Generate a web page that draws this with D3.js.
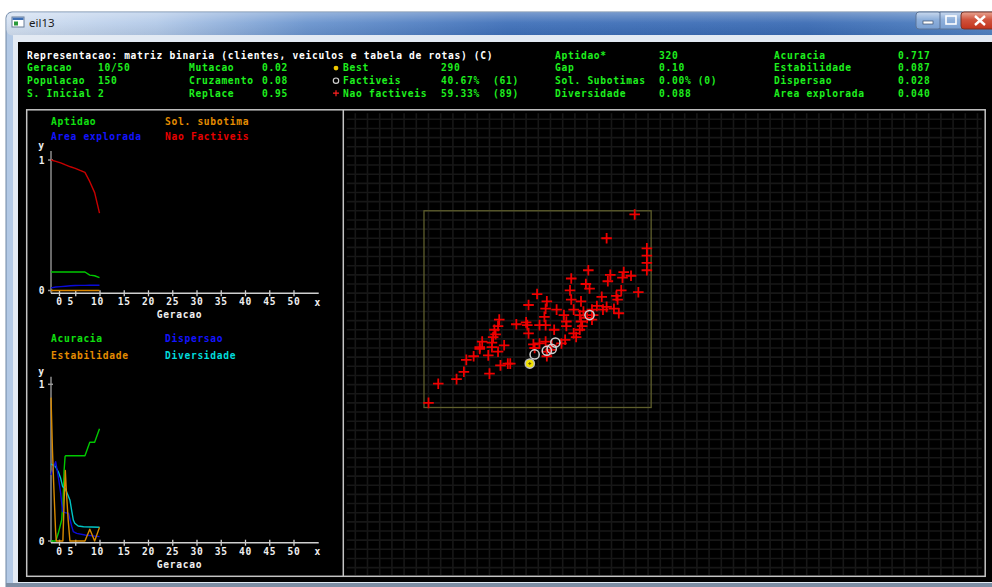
<!DOCTYPE html>
<html><head><meta charset="utf-8">
<script src="https://cdn.jsdelivr.net/npm/d3@7"></script>
<style>
html,body{margin:0;padding:0;background:#fff;overflow:hidden}
svg{display:block}
.mono{font-family:"DejaVu Sans Mono","Liberation Mono",monospace;font-weight:bold;font-size:9.6px;letter-spacing:0.7px}
</style></head><body>
<svg id="c" width="992" height="587"></svg>
<script>
// ---------- run summary ----------
const headerTitle = "Representacao: matriz binaria (clientes, veiculos e tabela de rotas) (C)";
const paramLabels = ["Geracao", "Populacao", "S. Inicial"];
const paramValues = ["10/50", "150", "2"];
const operLabels = ["Mutacao", "Cruzamento", "Replace"];
const operValues = ["0.02", "0.08", "0.95"];
const popLabels = ["Best", "Factiveis", "Nao factiveis"];
const popValues = ["290", "40.67%", "59.33%"];
const popCounts = ["", "(61)", "(89)"];
const qualLabels = ["Aptidao*", "Gap", "Sol. Subotimas", "Diversidade"];
const qualValues = ["320", "0.10", "0.00% (0)", "0.088"];
const metricLabels = ["Acuracia", "Estabilidade", "Dispersao", "Area explorada"];
const metricValues = ["0.717", "0.087", "0.028", "0.040"];

// ---------- evolution per generation (upper plot) ----------
const generations = [0, 1, 2, 3, 4, 5, 6, 7, 8, 9, 10];
const aptidaoSeries = [0.142, 0.142, 0.142, 0.142, 0.142, 0.142, 0.142, 0.142, 0.118, 0.113, 0.098];
const solSubotimaSeries = [0, 0, 0, 0, 0, 0, 0, 0, 0, 0, 0];
const areaExploradaSeries = [0.02, 0.027, 0.03, 0.033, 0.036, 0.038, 0.039, 0.039, 0.04, 0.04, 0.04];
const naoFactiveisSeries = [1.0, 0.99, 0.978, 0.962, 0.948, 0.936, 0.92, 0.905, 0.834, 0.75, 0.5933];

// ---------- population metrics (lower plot), [generation, value] ----------
const acuraciaSeries = [[0,0],[1.0,0],[1.5,0.049],[2.2,0.134],[2.5,0.262],[2.7,0.45],[2.9,0.538],[3.0,0.544],[7.0,0.544],[8.0,0.63],[9.0,0.63],[10,0.717]];
const estabilidadeSeries = [[0,0.915],[0.15,0.75],[0.3,0.58],[0.5,0.41],[0.7,0.25],[0.95,0.06],[1.1,0],[2.45,0],[2.75,0.3],[2.95,0.45],[3.2,0.3],[3.55,0.13],[3.9,0],[7.0,0],[8.0,0.075],[9.0,0],[10,0.087]];
const dispersaoSeries = [[0,0.421],[0.4,0.46],[0.96,0.506],[1.5,0.41],[2.0,0.304],[2.4,0.187],[2.9,0.181],[3.6,0.177],[4.3,0.091],[4.6,0.06],[5.3,0.049],[7.0,0.038],[10,0.028]];
const diversidadeSeries = [[0,0.49],[0.82,0.48],[1.5,0.442],[2.0,0.40],[2.4,0.347],[2.9,0.336],[3.2,0.315],[3.9,0.262],[4.3,0.187],[4.6,0.134],[4.9,0.113],[5.6,0.096],[6.7,0.091],[10,0.088]];

const xTickValues = [0, 5, 10, 15, 20, 25, 30, 35, 40, 45, 50];

// ---------- solution space (grid units) ----------
const naoFactiveis = [
 [22.9,38.6],[20.6,36.0],[23.9,34.9],[23.9,34.1],[23.9,33.3],[23.9,32.5],[19.1,32.5],[17.7,31.6],[20.9,32.0],[20.7,31.3],
 [22.0,32.3],[21.9,31.7],[22.6,31.9],[18.9,31.0],[19.2,30.5],[17.6,30.3],[14.9,29.9],[23.2,30.1],[21.8,30.3],[21.4,29.7],
 [21.5,29.3],[20.2,29.6],[17.7,29.3],[18.5,29.1],[15.7,29.1],[14.2,28.7],[15.6,28.3],[16.5,28.2],[19.8,28.6],[20.6,28.5],
 [21.2,28.3],[20.3,28.2],[21.6,27.8],[19.4,28.2],[19.5,27.6],[19.4,27.1],[17.9,28.2],[18.4,27.6],[17.1,27.6],[17.3,26.9],
 [17.3,26.4],[18.5,26.9],[18.6,26.4],[18.4,26.0],[17.9,25.6],[18.1,25.2],[16.3,26.0],[15.6,26.5],[15.1,26.5],[14.0,26.8],
 [14.1,26.5],[13.2,26.6],[14.2,25.6],[11.8,27.1],[11.7,26.4],[11.4,26.0],[11.5,25.5],[11.3,25.2],[10.4,24.7],[11.2,24.6],
 [11.2,24.1],[10.2,24.1],[10.2,23.9],[12.2,24.3],[11.7,23.6],[10.9,23.2],[9.1,22.7],[9.7,23.1],[8.9,21.4],[8.3,20.6],
 [6.8,20.1],[6.0,18.0],[11.0,21.2],[11.9,22.1],[12.5,22.3],[12.7,22.3],[14.6,24.4],[14.7,24.0],[15.6,24.7],[15.7,23.6],
 [15.7,23.1],[16.1,24.3],[16.9,24.5],[17.2,24.9],[18.7,28.0],[15.5,27.4],[15.1,24.5],[16.0,23.8],[19.0,27.3]
];
const factiveis = [[14.7,23.3],[15.7,23.7],[16.1,23.9],[16.4,24.6],[19.2,27.6]];
const best = [14.3, 22.3];
// explored region [xmin, ymin, xmax, ymax]
const exploredBox = [5.63, 17.5, 24.25, 39.0];

// ---------- drawing ----------
const svg = d3.select("#c");
const defs = svg.append("defs");
const tg = defs.append("linearGradient").attr("id", "titleGrad").attr("x1", 0).attr("x2", 1).attr("y1", 0).attr("y2", 0);
[["0%", "#d3e0f1"], ["15%", "#b2c9e8"], ["30%", "#6a94ce"], ["50%", "#3f70b9"], ["80%", "#3a6bb4"], ["100%", "#5283c3"]]
  .forEach(([o, c]) => tg.append("stop").attr("offset", o).attr("stop-color", c));
const tv = defs.append("linearGradient").attr("id", "titleShade").attr("x1", 0).attr("x2", 0).attr("y1", 0).attr("y2", 1);
[["0%", "rgba(255,255,255,0.30)"], ["45%", "rgba(255,255,255,0.06)"], ["100%", "rgba(0,0,0,0.06)"]]
  .forEach(([o, c]) => tv.append("stop").attr("offset", o).attr("stop-color", c));
const cg = defs.append("linearGradient").attr("id", "closeGrad").attr("x1", 0).attr("x2", 0).attr("y1", 0).attr("y2", 1);
[["0%", "#e8a593"], ["45%", "#d0533d"], ["100%", "#c2331c"]].forEach(([o, c]) => cg.append("stop").attr("offset", o).attr("stop-color", c));
const bg = defs.append("linearGradient").attr("id", "btnGrad").attr("x1", 0).attr("x2", 0).attr("y1", 0).attr("y2", 1);
[["0%", "#c9d9ee"], ["45%", "#8fb0db"], ["100%", "#7aa0d2"]].forEach(([o, c]) => bg.append("stop").attr("offset", o).attr("stop-color", c));

// window frame
svg.append("rect").attr("x", 6).attr("y", 12).attr("width", 1000).attr("height", 590).attr("rx", 6)
  .attr("fill", "#b3c9e5").attr("stroke", "#6f86a3");
svg.append("rect").attr("x", 6.5).attr("y", 12.5).attr("width", 1000).attr("height", 23).attr("rx", 6)
  .attr("fill", "url(#titleGrad)");
svg.append("rect").attr("x", 6.5).attr("y", 12.5).attr("width", 1000).attr("height", 23).attr("rx", 6)
  .attr("fill", "url(#titleShade)");
svg.append("rect").attr("x", 13).attr("y", 35).attr("width", 990).attr("height", 548).attr("fill", "#e3eaf3");
svg.append("rect").attr("x", 18).attr("y", 42).attr("width", 980).attr("height", 540).attr("fill", "#000");
svg.append("rect").attr("x", 6).attr("y", 583).attr("width", 990).attr("height", 4).attr("fill", "#7d8ea4");

// window icon + caption
const icon = svg.append("g");
icon.append("rect").attr("x", 12).attr("y", 17).attr("width", 12).attr("height", 10).attr("fill", "#fff").attr("stroke", "#6b7f99");
icon.append("rect").attr("x", 12.5).attr("y", 17.5).attr("width", 11).attr("height", 2.5).attr("fill", "#3d6fb5");
icon.append("rect").attr("x", 14).attr("y", 21.5).attr("width", 4).attr("height", 4).attr("fill", "#2a9a3a");
svg.append("text").attr("x", 29).attr("y", 26.5).attr("font-family", "'Noto Sans','DejaVu Sans',sans-serif")
  .attr("font-size", 11.5).attr("fill", "#1b1b1b").text("eil13");

// caption buttons
const btns = svg.append("g");
btns.append("rect").attr("x", 916).attr("y", 12).attr("width", 25).attr("height", 17).attr("rx", 3).attr("fill", "url(#btnGrad)").attr("stroke", "#5d7597");
btns.append("rect").attr("x", 940).attr("y", 12).attr("width", 22).attr("height", 17).attr("fill", "url(#btnGrad)").attr("stroke", "#5d7597");
btns.append("rect").attr("x", 961).attr("y", 12).attr("width", 40).attr("height", 17).attr("rx", 3).attr("fill", "url(#closeGrad)").attr("stroke", "#7a3327");
btns.append("rect").attr("x", 923).attr("y", 21).attr("width", 10).attr("height", 3).attr("fill", "#fff").attr("stroke", "#3b4f6b").attr("stroke-width", 0.7);
btns.append("rect").attr("x", 946).attr("y", 16).attr("width", 10).attr("height", 8).attr("fill", "none").attr("stroke", "#fff").attr("stroke-width", 1.6);
btns.append("path").attr("d", "M975,16 L985,25 M985,16 L975,25").attr("stroke", "#fff").attr("stroke-width", 2.4);

// ---------- header text ----------
const GREEN = "#1ef01e";
const rowY = [58.7, 71.4, 84, 96.5];
const hdr = svg.append("g").attr("class", "mono").attr("fill", GREEN);
function htext(x, y, s, col) {
  return hdr.append("text").attr("x", x).attr("y", y).attr("fill", col || GREEN).attr("xml:space", "preserve").text(s);
}
htext(27, rowY[0], headerTitle, "#ffffff");
paramLabels.forEach((s, i) => { htext(27, rowY[i + 1], s); htext(98, rowY[i + 1], paramValues[i]); });
operLabels.forEach((s, i) => { htext(189, rowY[i + 1], s); htext(262, rowY[i + 1], operValues[i]); });
popLabels.forEach((s, i) => {
  htext(343, rowY[i + 1], s); htext(441, rowY[i + 1], popValues[i]);
  if (popCounts[i]) htext(493, rowY[i + 1], popCounts[i]);
});
qualLabels.forEach((s, i) => { htext(555, rowY[i], s); htext(659, rowY[i], qualValues[i]); });
metricLabels.forEach((s, i) => { htext(774, rowY[i], s); htext(898, rowY[i], metricValues[i]); });
// legend symbols beside the population counts
hdr.append("circle").attr("cx", 336).attr("cy", rowY[1] - 3.3).attr("r", 2.4).attr("fill", "#f0c800");
hdr.append("circle").attr("cx", 336).attr("cy", rowY[2] - 3.3).attr("r", 2.7).attr("fill", "none").attr("stroke", "#d0d0d0").attr("stroke-width", 1.2);
hdr.append("path").attr("d", `M333,${rowY[3] - 3.3}h6M336,${rowY[3] - 6.3}v6`).attr("stroke", "#ff2020").attr("stroke-width", 1.2);

// ---------- panel frames ----------
svg.append("rect").attr("x", 26.7).attr("y", 109.8).attr("width", 958.5).attr("height", 466.5)
  .attr("fill", "none").attr("stroke", "#c4c4c4").attr("stroke-width", 1.5);
svg.append("line").attr("x1", 343.3).attr("x2", 343.3).attr("y1", 109.8).attr("y2", 576.3)
  .attr("stroke", "#c4c4c4").attr("stroke-width", 1.5);

// ---------- line plots ----------
const xG = d3.scaleLinear().domain([0, 50]).range([51, 293.5]);
const labelNudge = v => (v === 0 ? 8 : v === 5 ? -5 : v === 10 ? -2.5 : 0);
const tickNudge = v => (v === 0 ? 8 : 0);

function drawPlot(cfg) {
  const y = d3.scaleLinear().domain([0, 1]).range([cfg.y0, cfg.y1]);
  const g = svg.append("g");
  // legend
  cfg.legend.forEach(([name, col], i) => {
    g.append("text").attr("class", "mono").attr("x", i % 2 ? 165 : 51).attr("y", cfg.legendY[Math.floor(i / 2)])
      .attr("fill", col).text(name);
  });
  // y axis
  g.append("line").attr("x1", xG(0)).attr("x2", xG(0)).attr("y1", cfg.axisTop).attr("y2", cfg.xAxisY)
    .attr("stroke", "#8c8c8c").attr("stroke-width", 1.5);
  [0, 1].forEach(v => {
    g.append("line").attr("x1", xG(0) - 3).attr("x2", xG(0) + 2).attr("y1", y(v)).attr("y2", y(v))
      .attr("stroke", "#9a9a9a").attr("stroke-width", 1.5);
    g.append("text").attr("class", "mono").attr("x", 42).attr("y", y(v) + 3.5).attr("text-anchor", "middle")
      .attr("fill", "#f0f0f0").text(d3.format("d")(v));
  });
  g.append("text").attr("class", "mono").attr("x", 41.5).attr("y", cfg.axisTop - 2).attr("text-anchor", "middle")
    .attr("fill", "#f0f0f0").text("y");
  // x axis
  const ax = d3.axisBottom(xG).tickValues(xTickValues).tickSize(0).tickFormat(d3.format("d"));
  const axg = g.append("g").attr("transform", `translate(0,${cfg.xAxisY})`).call(ax);
  axg.select(".domain").remove();
  axg.selectAll(".tick text").attr("class", "mono").attr("fill", "#f0f0f0").attr("y", 0).attr("dy", 12.2)
    .attr("dx", d => labelNudge(d)).attr("font-family", null).attr("font-size", null);
  axg.selectAll(".tick").append("line").attr("x1", d => tickNudge(d)).attr("x2", d => tickNudge(d))
    .attr("y1", -3).attr("y2", 3).attr("stroke", "#d0d0d0").attr("stroke-width", 1.3);
  g.append("line").attr("x1", xG(0)).attr("x2", xG(55.2)).attr("y1", cfg.xAxisY).attr("y2", cfg.xAxisY)
    .attr("stroke", "#cfcfcf").attr("stroke-width", 1.5);
  g.append("text").attr("class", "mono").attr("x", xG(55)).attr("y", cfg.xAxisY + 12.2).attr("text-anchor", "middle")
    .attr("fill", "#f0f0f0").text("x");
  g.append("text").attr("class", "mono").attr("x", 179.5).attr("y", cfg.xAxisY + 25).attr("text-anchor", "middle")
    .attr("fill", "#f0f0f0").text("Geracao");
  // series
  const line = d3.line().x(d => xG(d[0])).y(d => y(d[1]));
  cfg.series.forEach(([pts, col]) => {
    g.append("path").attr("d", line(pts)).attr("fill", "none").attr("stroke", col).attr("stroke-width", 1.4)
      .attr("stroke-linejoin", "round");
  });
}

const zipGen = arr => generations.map((gv, i) => [gv, arr[i]]);

drawPlot({
  y0: 290.5, y1: 160, axisTop: 151, xAxisY: 293.3, legendY: [125.3, 140.3],
  legend: [["Aptidao", "#10e010"], ["Sol. subotima", "#e48c00"], ["Area explorada", "#1414ff"], ["Nao Factiveis", "#e80000"]],
  series: [
    [zipGen(solSubotimaSeries), "#d88400"],
    [zipGen(aptidaoSeries), "#00c800"],
    [zipGen(areaExploradaSeries), "#0a0ad8"],
    [zipGen(naoFactiveisSeries), "#c80000"]
  ]
});

drawPlot({
  y0: 541, y1: 384.3, axisTop: 376.7, xAxisY: 542.7, legendY: [342, 358.7],
  legend: [["Acuracia", "#10e010"], ["Dispersao", "#1414ff"], ["Estabilidade", "#e48c00"], ["Diversidade", "#00dcdc"]],
  series: [
    [acuraciaSeries, "#00c800"],
    [diversidadeSeries, "#00c4c4"],
    [dispersaoSeries, "#0a0ad8"],
    [estabilidadeSeries, "#d88a00"]
  ]
});

// ---------- solution space ----------
const xS = d3.scaleLinear().domain([0, 51]).range([355.3, 977.5]);
const yS = d3.scaleLinear().domain([0, 49]).range([567.6, 119.3]);
const sp = svg.append("g");
sp.append("g").selectAll("line").data(d3.range(0, 52)).join("line")
  .attr("x1", d => xS(d)).attr("x2", d => xS(d)).attr("y1", 113.3).attr("y2", 575)
  .attr("stroke", "#171717").attr("stroke-width", 1.6);
sp.append("g").selectAll("line").data(d3.range(0, 50)).join("line")
  .attr("y1", d => yS(d)).attr("y2", d => yS(d)).attr("x1", 346.7).attr("x2", 981.7)
  .attr("stroke", "#171717").attr("stroke-width", 1.6);

sp.append("rect")
  .attr("x", xS(exploredBox[0])).attr("y", yS(exploredBox[3]))
  .attr("width", xS(exploredBox[2]) - xS(exploredBox[0])).attr("height", yS(exploredBox[1]) - yS(exploredBox[3]))
  .attr("fill", "none").attr("stroke", "#5e5e2c").attr("stroke-width", 1.3);

const arm = 5.3;
sp.append("g").selectAll("path").data(naoFactiveis).join("path")
  .attr("d", d => `M${xS(d[0]) - arm},${yS(d[1])}H${xS(d[0]) + arm}M${xS(d[0])},${yS(d[1]) - arm}V${yS(d[1]) + arm}`)
  .attr("stroke", "#ee0000").attr("stroke-width", 1.8).attr("fill", "none");
sp.append("g").selectAll("circle").data(factiveis).join("circle")
  .attr("cx", d => xS(d[0])).attr("cy", d => yS(d[1])).attr("r", 4.6)
  .attr("fill", "none").attr("stroke", "#cfcfcf").attr("stroke-width", 1.5);
sp.append("circle").attr("cx", xS(best[0])).attr("cy", yS(best[1])).attr("r", 4.6)
  .attr("fill", "#f0e000").attr("stroke", "#bdbdbd").attr("stroke-width", 1.5);
sp.append("path")
  .attr("d", `M${xS(best[0]) - 1.5},${yS(best[1])}h3M${xS(best[0])},${yS(best[1]) - 1.5}v3`)
  .attr("stroke", "#6a5a00").attr("stroke-width", 1);
</script>
</body></html>
